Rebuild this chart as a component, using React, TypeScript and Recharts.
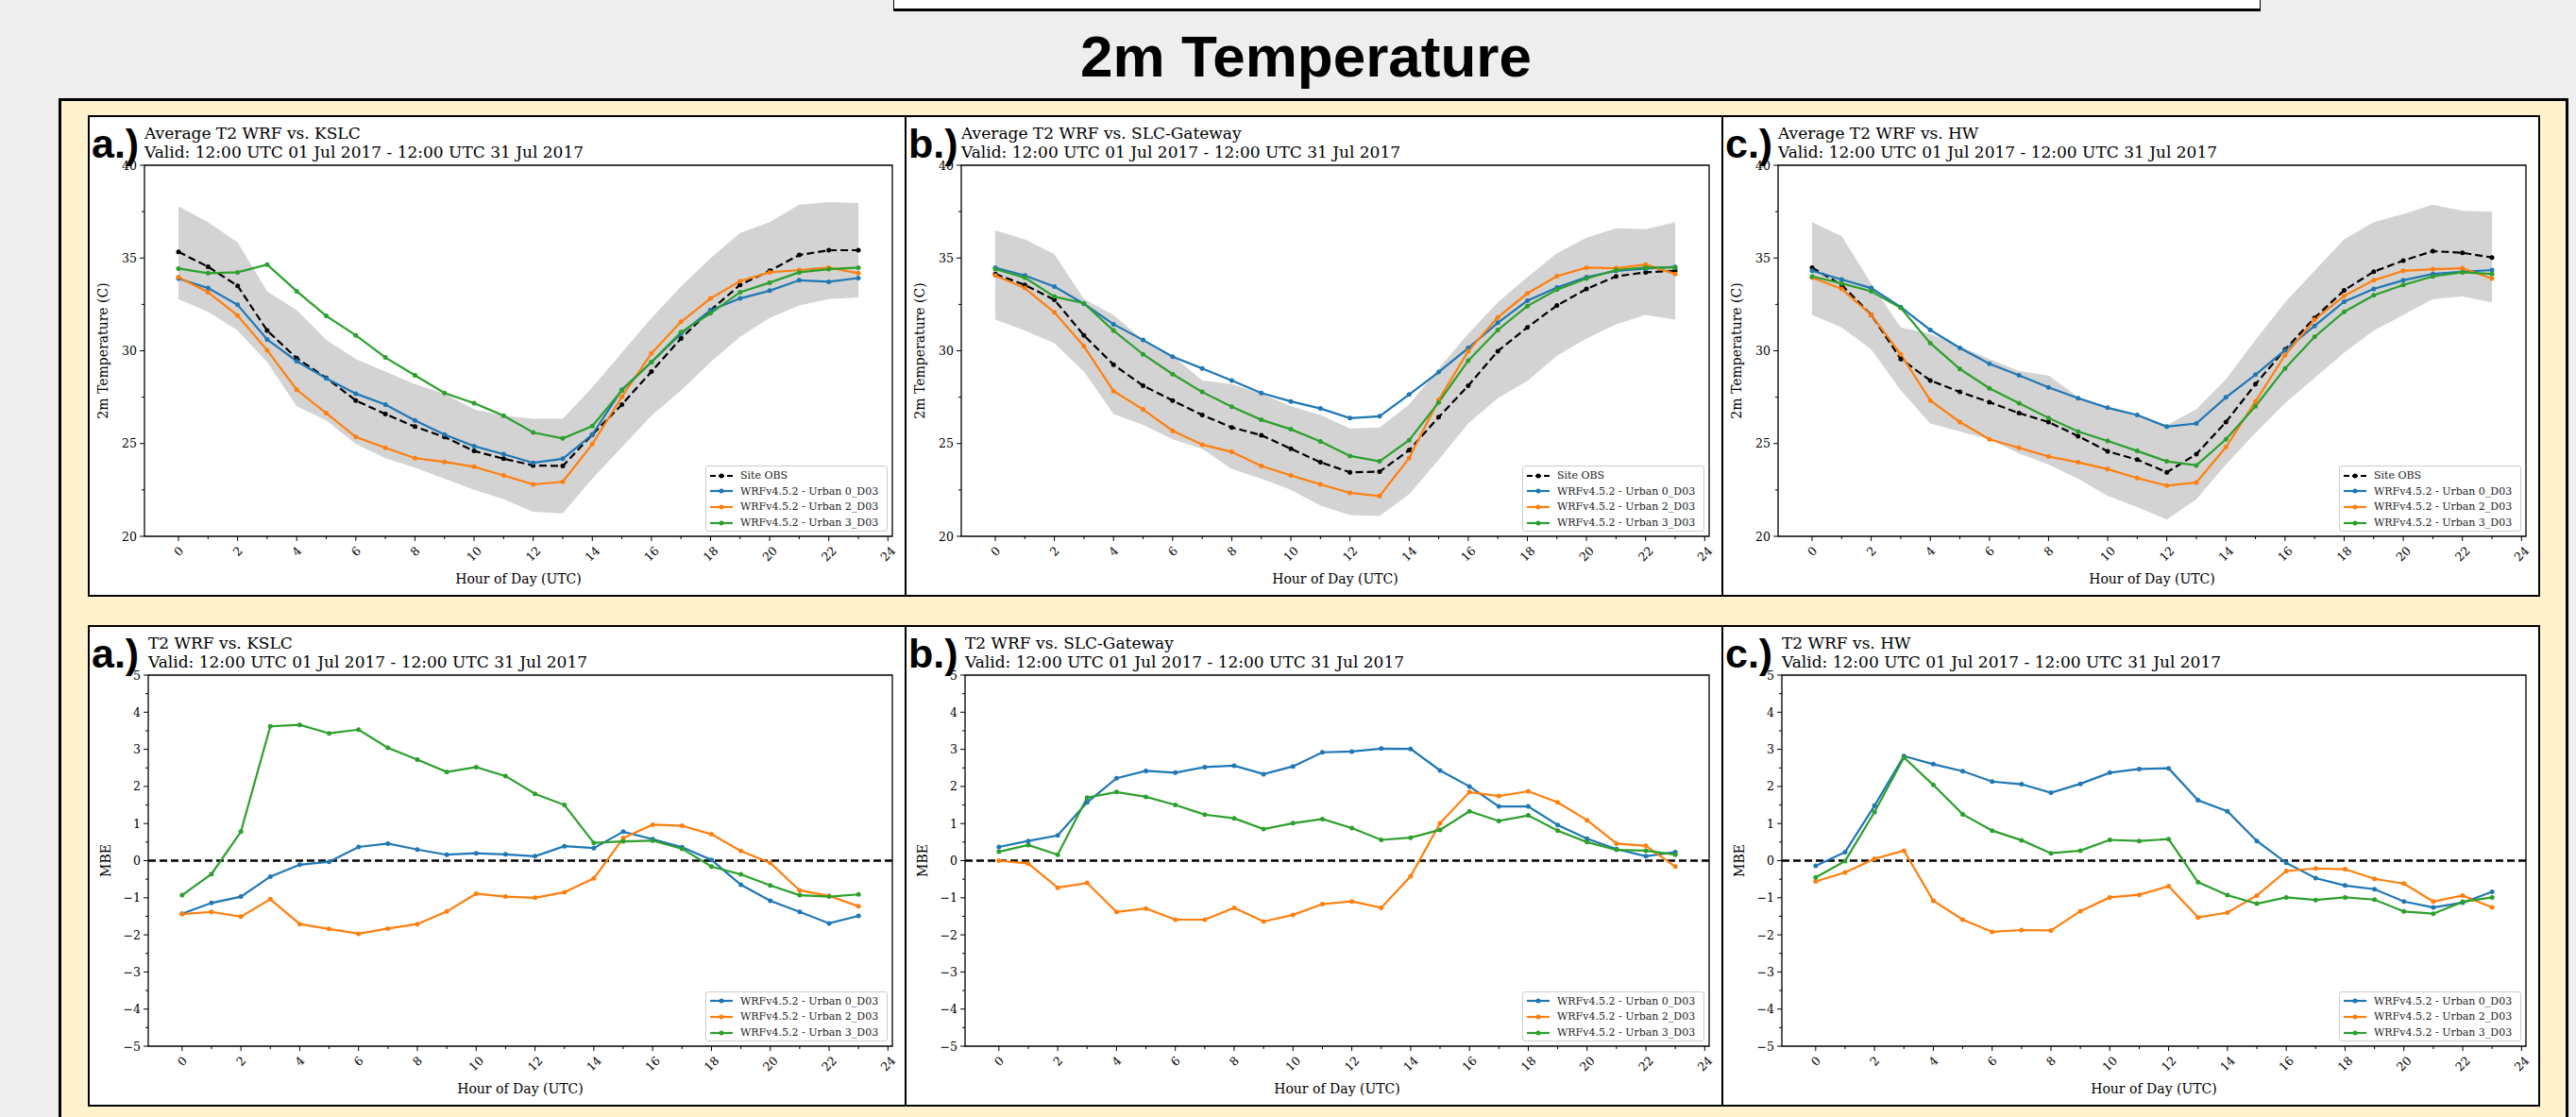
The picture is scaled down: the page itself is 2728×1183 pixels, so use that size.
import React from 'react';
import { ComposedChart, Line, Area, XAxis, YAxis, ReferenceLine, ReferenceArea } from 'recharts';

// hour of day (UTC)
const hours = [0, 1, 2, 3, 4, 5, 6, 7, 8, 9, 10, 11, 12, 13, 14, 15, 16, 17, 18, 19, 20, 21, 22, 23];
const hourTicks = [0, 1, 2, 3, 4, 5, 6, 7, 8, 9, 10, 11, 12, 13, 14, 15, 16, 17, 18, 19, 20, 21, 22, 23, 24];
const tempTicks = [20, 22.5, 25, 27.5, 30, 32.5, 35, 37.5, 40];
const mbeTicks = [-5, -4.5, -4, -3.5, -3, -2.5, -2, -1.5, -1, -0.5, 0, 0.5, 1, 1.5, 2, 2.5, 3, 3.5, 4, 4.5, 5];

const stations = ['KSLC', 'SLC-Gateway', 'HW'];
const letters = ['a.)', 'b.)', 'c.)'];
const seriesNames = ['Site OBS', 'WRFv4.5.2 - Urban 0_D03', 'WRFv4.5.2 - Urban 2_D03', 'WRFv4.5.2 - Urban 3_D03'];

// average T2 (C)
const obsKSLC = [35.33, 34.53, 33.5, 31.09, 29.6, 28.54, 27.32, 26.59, 25.91, 25.35, 24.6, 24.18, 23.82, 23.79, 25.48, 27.1, 28.88, 30.66, 32.19, 33.55, 34.31, 35.16, 35.42, 35.42];
const u0KSLC = [33.89, 33.38, 32.48, 30.61, 29.44, 28.51, 27.69, 27.1, 26.25, 25.48, 24.86, 24.43, 23.96, 24.18, 25.48, 27.9, 29.39, 30.92, 32.19, 32.82, 33.24, 33.8, 33.72, 33.92];
const u2KSLC = [33.97, 33.16, 31.9, 30.03, 27.9, 26.64, 25.35, 24.77, 24.21, 24.01, 23.75, 23.28, 22.8, 22.94, 24.97, 27.52, 29.86, 31.56, 32.82, 33.75, 34.23, 34.35, 34.48, 34.18];
const u3KSLC = [34.43, 34.18, 34.23, 34.65, 33.21, 31.88, 30.83, 29.64, 28.68, 27.72, 27.18, 26.5, 25.6, 25.28, 25.94, 27.86, 29.39, 31.0, 32.02, 33.16, 33.67, 34.23, 34.4, 34.48];
const hiKSLC = [37.79, 36.94, 35.84, 33.21, 32.19, 30.58, 29.56, 28.88, 28.2, 27.69, 26.84, 26.5, 26.33, 26.33, 28.03, 29.9, 31.77, 33.46, 34.99, 36.35, 36.94, 37.88, 38.01, 37.96];
const loKSLC = [32.78, 32.1, 31.09, 29.39, 27.01, 26.25, 24.97, 24.21, 23.7, 23.11, 22.51, 22.0, 21.32, 21.24, 23.11, 24.81, 26.5, 27.86, 29.39, 30.75, 31.77, 32.44, 32.78, 32.87];

const obsGW = [34.14, 33.55, 32.75, 30.83, 29.25, 28.12, 27.32, 26.54, 25.87, 25.45, 24.72, 23.99, 23.45, 23.48, 24.64, 26.42, 28.12, 29.98, 31.26, 32.44, 33.33, 34.01, 34.23, 34.31];
const u0GW = [34.48, 34.06, 33.46, 32.53, 31.43, 30.58, 29.68, 29.05, 28.4, 27.72, 27.27, 26.89, 26.37, 26.47, 27.64, 28.85, 30.15, 31.51, 32.7, 33.41, 33.97, 34.31, 34.43, 34.52];
const u2GW = [34.06, 33.38, 32.07, 30.24, 27.83, 26.84, 25.69, 24.94, 24.55, 23.79, 23.28, 22.8, 22.34, 22.17, 24.21, 27.35, 29.98, 31.8, 33.09, 34.02, 34.48, 34.45, 34.65, 34.14];
const u3GW = [34.4, 33.94, 32.92, 32.56, 31.09, 29.81, 28.74, 27.78, 26.98, 26.28, 25.77, 25.11, 24.33, 24.04, 25.18, 27.22, 29.47, 31.12, 32.41, 33.29, 33.89, 34.35, 34.48, 34.48];
const hiGW = [36.49, 36.01, 35.2, 32.78, 31.93, 30.58, 29.73, 28.4, 28.2, 27.69, 27.01, 26.54, 25.82, 25.86, 27.1, 29.05, 30.92, 32.61, 33.97, 35.25, 36.1, 36.6, 36.55, 36.94];
const loGW = [31.68, 31.09, 30.41, 28.88, 26.59, 26.0, 25.23, 24.72, 23.62, 23.11, 22.51, 21.66, 21.15, 21.1, 22.26, 24.13, 26.08, 27.44, 28.37, 29.73, 30.66, 31.43, 31.93, 31.68];

const obsHW = [34.48, 33.55, 31.94, 29.56, 28.4, 27.78, 27.23, 26.64, 26.16, 25.4, 24.58, 24.13, 23.45, 24.43, 26.16, 28.2, 30.07, 31.77, 33.26, 34.26, 34.86, 35.37, 35.28, 35.03];
const u0HW = [34.31, 33.84, 33.38, 32.36, 31.12, 30.15, 29.3, 28.68, 28.03, 27.44, 26.93, 26.54, 25.91, 26.08, 27.49, 28.71, 30.03, 31.34, 32.65, 33.33, 33.8, 34.14, 34.26, 34.35];
const u2HW = [33.94, 33.33, 31.94, 29.81, 27.32, 26.16, 25.23, 24.77, 24.3, 23.99, 23.62, 23.14, 22.73, 22.9, 24.81, 27.27, 29.76, 31.68, 32.96, 33.8, 34.31, 34.4, 34.45, 33.89];
const u3HW = [34.01, 33.63, 33.21, 32.31, 30.41, 29.02, 27.98, 27.18, 26.38, 25.65, 25.14, 24.6, 24.04, 23.82, 25.23, 27.01, 29.05, 30.75, 32.1, 32.99, 33.55, 34.01, 34.23, 34.14];
const hiHW = [36.94, 36.18, 33.63, 31.26, 30.92, 30.24, 29.56, 28.91, 28.66, 27.52, 26.93, 26.5, 25.99, 26.84, 28.46, 30.58, 32.61, 34.31, 36.01, 36.94, 37.37, 37.88, 37.54, 37.5];
const loHW = [31.93, 31.26, 30.07, 27.86, 26.08, 25.65, 25.23, 24.47, 23.87, 23.11, 22.17, 21.58, 20.9, 22.0, 23.87, 25.57, 27.18, 28.54, 29.9, 31.09, 31.93, 32.78, 32.92, 32.61];

// mean bias error (model - obs)
const mbeU0KSLC = [-1.43, -1.14, -0.97, -0.43, -0.11, -0.03, 0.37, 0.46, 0.3, 0.16, 0.2, 0.17, 0.12, 0.39, 0.34, 0.78, 0.58, 0.36, 0.02, -0.65, -1.08, -1.38, -1.69, -1.49];
const mbeU2KSLC = [-1.44, -1.38, -1.51, -1.04, -1.71, -1.84, -1.97, -1.83, -1.71, -1.37, -0.89, -0.97, -1.0, -0.85, -0.48, 0.61, 0.97, 0.94, 0.71, 0.26, -0.06, -0.8, -0.95, -1.23];
const mbeU3KSLC = [-0.93, -0.36, 0.78, 3.62, 3.66, 3.43, 3.53, 3.04, 2.72, 2.39, 2.52, 2.28, 1.8, 1.5, 0.48, 0.52, 0.54, 0.32, -0.16, -0.37, -0.67, -0.93, -0.97, -0.91];

const mbeU0GW = [0.37, 0.53, 0.68, 1.57, 2.22, 2.42, 2.37, 2.52, 2.56, 2.33, 2.54, 2.92, 2.94, 3.02, 3.01, 2.43, 2.0, 1.46, 1.46, 0.96, 0.59, 0.31, 0.12, 0.23];
const mbeU2GW = [0.0, -0.08, -0.73, -0.6, -1.38, -1.29, -1.59, -1.59, -1.27, -1.64, -1.46, -1.17, -1.1, -1.27, -0.42, 1.01, 1.85, 1.74, 1.87, 1.57, 1.09, 0.46, 0.4, -0.16];
const mbeU3GW = [0.24, 0.42, 0.16, 1.7, 1.85, 1.72, 1.5, 1.24, 1.14, 0.85, 1.01, 1.12, 0.88, 0.56, 0.62, 0.83, 1.33, 1.07, 1.22, 0.81, 0.5, 0.29, 0.27, 0.16];

const mbeU0HW = [-0.14, 0.23, 1.48, 2.82, 2.6, 2.41, 2.13, 2.06, 1.83, 2.07, 2.37, 2.47, 2.49, 1.63, 1.33, 0.53, -0.06, -0.47, -0.67, -0.77, -1.1, -1.26, -1.13, -0.84];
const mbeU2HW = [-0.56, -0.32, 0.05, 0.27, -1.08, -1.59, -1.92, -1.87, -1.88, -1.36, -0.99, -0.92, -0.69, -1.53, -1.4, -0.94, -0.28, -0.21, -0.23, -0.49, -0.62, -1.1, -0.94, -1.26];
const mbeU3HW = [-0.45, -0.01, 1.31, 2.78, 2.04, 1.25, 0.81, 0.55, 0.2, 0.27, 0.56, 0.53, 0.58, -0.58, -0.93, -1.16, -0.99, -1.06, -0.99, -1.05, -1.37, -1.43, -1.11, -0.99];

const COLORS = ['#000000', '#1f77b4', '#ff7f0e', '#2ca02c'];
const SERIF = '"DejaVu Serif", serif';
const SANS = '"Liberation Sans", Arial, sans-serif';
const PW = 865;
const PH = 509;
const XDOM: [number, number] = [-1.15, 24.15];

const fmt = (v: number) => (v < 0 ? '\u2212' + Math.abs(v) : String(v));

function XTick(props: any) {
  const { x, y, payload } = props;
  const v = payload.value;
  const major = v % 2 === 0;
  const off = 10 + (String(v).length * 7.6 + 9) / 2.83;
  return (
    <g>
      <line x1={x} x2={x} y1={y} y2={y + (major ? 5 : 3)} stroke="#000" strokeWidth={1} />
      {major && (
        <text transform={`translate(${x},${y + off}) rotate(-45)`} textAnchor="middle" dominantBaseline="central"
          fontFamily={SERIF} fontSize={12.5} fill="#000">{v}</text>
      )}
    </g>
  );
}

function makeYTick(step: number) {
  return function YTick(props: any) {
    const { x, y, payload } = props;
    const v = payload.value;
    const major = Math.abs(v / step - Math.round(v / step)) < 1e-6;
    return (
      <g>
        <line x1={x - (major ? 5 : 3)} x2={x} y1={y} y2={y} stroke="#000" strokeWidth={1} />
        {major && (
          <text x={x - 8} y={y} textAnchor="end" dominantBaseline="central" fontFamily={SERIF} fontSize={12.5} fill="#000">{fmt(v)}</text>
        )}
      </g>
    );
  };
}
const TempTick = makeYTick(5);
const MbeTick = makeYTick(1);

interface PanelProps {
  left: number;
  top: number;
  yw: number;
  letter: string;
  title: string;
  yLabel: string;
  yLabelX: number;
  domain: [number, number];
  ticks: number[];
  tick: any;
  series: { name: string; color: string; values: number[]; dashed?: boolean }[];
  band?: { lo: number[]; hi: number[] };
  zero?: boolean;
}

function Panel({ left, top, yw, letter, title, yLabel, yLabelX, domain, ticks, tick, series, band, zero }: PanelProps) {
  const data = hours.map((h, i) => {
    const row: any = { h };
    series.forEach((s, k) => { row['s' + k] = s.values[i]; });
    if (band) row.band = [band.lo[i], band.hi[i]];
    return row;
  });
  const plotL = yw;
  const plotR = PW - 13;
  const plotT = 53;
  const plotB = PH - 63;
  const legH = series.length * 16.7 + 3;

  return (
    <>
      <div style={{ position: 'absolute', left, top, width: PW + 2, height: PH + 1, border: '2px solid #000', boxSizing: 'border-box', background: '#fff' }} />
      <div style={{ position: 'absolute', left, top }}>
        <ComposedChart width={PW} height={PH} data={data} margin={{ top: plotT, right: 13, bottom: 0, left: 0 }}>
          <XAxis dataKey="h" type="number" domain={XDOM} ticks={hourTicks} interval={0} height={63}
            axisLine={false} tickLine={false} tickSize={0} tickMargin={0} tick={XTick} allowDataOverflow />
          <YAxis type="number" domain={domain} ticks={ticks} interval={0} width={yw}
            axisLine={false} tickLine={false} tickSize={0} tickMargin={0} tick={tick} allowDataOverflow />
          {band && (
            <Area dataKey="band" type="linear" fill="#d3d3d3" fillOpacity={1} stroke="none" isAnimationActive={false} activeDot={false} />
          )}
          {zero && <ReferenceLine y={0} stroke="#000" strokeWidth={2.5} strokeDasharray="8 4" />}
          {series.map((s, k) => (
            <Line key={s.name} dataKey={'s' + k} type="linear" stroke={s.color} strokeWidth={2.2}
              strokeDasharray={s.dashed ? '8 4' : undefined}
              dot={{ r: 2.5, fill: s.color, stroke: s.color, strokeWidth: 0 }} activeDot={false} isAnimationActive={false} />
          ))}
          <ReferenceArea x1={XDOM[0]} x2={XDOM[1]} y1={domain[0]} y2={domain[1]} fill="none" stroke="#000" strokeWidth={1.3} />
        </ComposedChart>
      </div>
      <svg style={{ position: 'absolute', left, top, pointerEvents: 'none' }} width={PW} height={PH}>
        <text x={plotL} y={25} fontFamily={SERIF} fontSize={17} fill="#000">{title}</text>
        <text x={plotL} y={45} fontFamily={SERIF} fontSize={17} fill="#000">Valid: 12:00 UTC 01 Jul 2017 - 12:00 UTC 31 Jul 2017</text>
        <text x={4} y={45} fontFamily={SANS} fontWeight="bold" fontSize={43} fill="#000">{letter}</text>
        <text transform={`translate(${yLabelX},${(plotT + plotB) / 2}) rotate(-90)`} textAnchor="middle" dominantBaseline="central"
          fontFamily={SERIF} fontSize={14} fill="#000">{yLabel}</text>
        <text x={(plotL + plotR) / 2} y={PH - 13} textAnchor="middle" fontFamily={SERIF} fontSize={14} fill="#000">Hour of Day (UTC)</text>
      </svg>
      <div style={{
        position: 'absolute', left: left + plotR - 5 - 193, top: top + plotB - 5 - legH, width: 193, height: legH,
        boxSizing: 'border-box', border: '1px solid #cccccc', borderRadius: 3, background: 'rgba(255,255,255,0.8)', paddingTop: 1,
      }}>
        {series.map((s) => (
          <div key={s.name} style={{ height: 16.7, display: 'flex', alignItems: 'center' }}>
            <svg width={34} height={16} style={{ flex: 'none' }}>
              <line x1={4} x2={28} y1={8} y2={8} stroke={s.color} strokeWidth={2.2} strokeDasharray={s.dashed ? '6 3' : undefined} />
              <circle cx={16} cy={8} r={2.5} fill={s.color} />
            </svg>
            <span style={{ fontFamily: SERIF, fontSize: 11, color: '#222', whiteSpace: 'nowrap', marginLeft: 2 }}>{s.name}</span>
          </div>
        ))}
      </div>
    </>
  );
}

const tempSets = [
  { obs: obsKSLC, u0: u0KSLC, u2: u2KSLC, u3: u3KSLC, lo: loKSLC, hi: hiKSLC },
  { obs: obsGW, u0: u0GW, u2: u2GW, u3: u3GW, lo: loGW, hi: hiGW },
  { obs: obsHW, u0: u0HW, u2: u2HW, u3: u3HW, lo: loHW, hi: hiHW },
];
const mbeSets = [
  { u0: mbeU0KSLC, u2: mbeU2KSLC, u3: mbeU3KSLC },
  { u0: mbeU0GW, u2: mbeU2GW, u3: mbeU3GW },
  { u0: mbeU0HW, u2: mbeU2HW, u3: mbeU3HW },
];

export default function App() {
  const lefts = [93, 958, 1823];
  return (
    <div style={{ position: 'absolute', left: 0, top: 0, width: 2728, height: 1183, overflow: 'hidden', background: '#eeeeee' }}>
      <div style={{ position: 'absolute', left: 946, top: -2, width: 1448, height: 14, background: '#fff', border: '1px solid #000', borderBottom: '3px solid #000', boxSizing: 'border-box' }} />
      <div style={{ position: 'absolute', left: 0, width: 2728, top: 24, textAlign: 'center', paddingLeft: 38, boxSizing: 'border-box',
        fontFamily: SANS, fontWeight: 'bold', fontSize: 62, lineHeight: '72px', color: '#000' }}>2m Temperature</div>
      <div style={{ position: 'absolute', left: 62, top: 104, width: 2658, height: 1200, background: '#fff2cc', border: '3px solid #000', boxSizing: 'border-box' }} />
      {tempSets.map((t, i) => (
        <Panel key={'t' + i} left={lefts[i]} top={122} yw={60} letter={letters[i]}
          title={`Average T2 WRF vs. ${stations[i]}`} yLabel="2m Temperature (C)" yLabelX={16}
          domain={[20, 40]} ticks={tempTicks} tick={TempTick}
          band={{ lo: t.lo, hi: t.hi }}
          series={[
            { name: seriesNames[0], color: COLORS[0], values: t.obs, dashed: true },
            { name: seriesNames[1], color: COLORS[1], values: t.u0 },
            { name: seriesNames[2], color: COLORS[2], values: t.u2 },
            { name: seriesNames[3], color: COLORS[3], values: t.u3 },
          ]} />
      ))}
      {mbeSets.map((m, i) => (
        <Panel key={'m' + i} left={lefts[i]} top={662} yw={64} letter={letters[i]}
          title={`T2 WRF vs. ${stations[i]}`} yLabel="MBE" yLabelX={19}
          domain={[-5, 5]} ticks={mbeTicks} tick={MbeTick} zero
          series={[
            { name: seriesNames[1], color: COLORS[1], values: m.u0 },
            { name: seriesNames[2], color: COLORS[2], values: m.u2 },
            { name: seriesNames[3], color: COLORS[3], values: m.u3 },
          ]} />
      ))}
    </div>
  );
}
